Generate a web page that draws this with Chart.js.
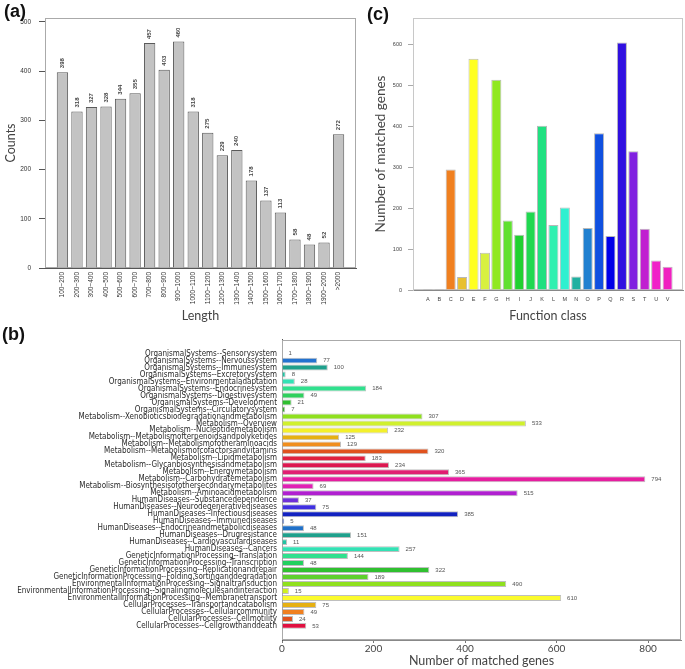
<!DOCTYPE html>
<html>
<head>
<meta charset="utf-8">
<script src="https://cdn.jsdelivr.net/npm/chart.js@4.4.1/dist/chart.umd.min.js"></script>
<style>
  body { margin: 0; background: #fff; width: 685px; height: 669px; position: relative; overflow: hidden; }
  .wrap { position: absolute; }
  .tag { position: absolute; font: bold 18px "Liberation Sans", Arial, sans-serif; color: #111; }
</style>
</head>
<body>
<div class="wrap" style="left:0;top:0"><canvas id="chartA" width="360" height="325"></canvas></div>
<div class="wrap" style="left:345px;top:0"><canvas id="chartC" width="340" height="325"></canvas></div>
<div class="wrap" style="left:0;top:330px"><canvas id="chartB" width="685" height="339"></canvas></div>
<div class="tag" style="left:4px;top:1px">(a)</div>
<div class="tag" style="left:367px;top:4px">(c)</div>
<div class="tag" style="left:2px;top:324px">(b)</div>
<script>
// (a) length distribution
var lengthLabels = ['100~200', '200~300', '300~400', '400~500', '500~600', '600~700', '700~800', '800~900', '900~1000',
  '1000~1100', '1100~1200', '1200~1300', '1300~1400', '1400~1500', '1500~1600', '1600~1700', '1700~1800',
  '1800~1900', '1900~2000', '>2000'];
var lengthCounts = [398, 318, 327, 328, 344, 355, 457, 403, 460, 318, 275, 229, 240, 178, 137, 113, 58, 48, 52, 272];
var countTicks = [0, 100, 200, 300, 400, 500];

// (c) function classes
var classLabels = ['A', 'B', 'C', 'D', 'E', 'F', 'G', 'H', 'I', 'J', 'K', 'L', 'M', 'N', 'O', 'P', 'Q', 'R', 'S', 'T', 'U', 'V'];
var classCounts = [2, 2, 295, 32, 566, 91, 515, 170, 135, 192, 402, 159, 202, 33, 152, 384, 132, 606, 340, 150, 72, 57];
var classColors = ['#555555', '#555555', '#f08020', '#e8c030', '#ffff20', '#d8f040', '#90e820', '#60e030', '#20d030',
  '#20d850', '#20e080', '#30f0b0', '#30f0d0', '#20b0a0', '#2080d0', '#1050e0', '#0000e8', '#3010e0', '#8020e0',
  '#c020d0', '#f020c8', '#f020c0'];
var classTicks = [0, 100, 200, 300, 400, 500, 600];

// (b) pathways
var pathwayLabels = [
  'OrganismalSystems--Sensorysystem',
  'OrganismalSystems--Nervoussystem',
  'OrganismalSystems--Immunesystem',
  'OrganismalSystems--Excretorysystem',
  'OrganismalSystems--Environmentaladaptation',
  'OrganismalSystems--Endocrinesystem',
  'OrganismalSystems--Digestivesystem',
  'OrganismalSystems--Development',
  'OrganismalSystems--Circulatorysystem',
  'Metabolism--Xenobioticsbiodegradationandmetabolism',
  'Metabolism--Overview',
  'Metabolism--Nucleotidemetabolism',
  'Metabolism--Metabolismofterpenoidsandpolyketides',
  'Metabolism--Metabolismofotheraminoacids',
  'Metabolism--Metabolismofcofactorsandvitamins',
  'Metabolism--Lipidmetabolism',
  'Metabolism--Glycanbiosynthesisandmetabolism',
  'Metabolism--Energymetabolism',
  'Metabolism--Carbohydratemetabolism',
  'Metabolism--Biosynthesisofothersecondarymetabolites',
  'Metabolism--Aminoacidmetabolism',
  'HumanDiseases--Substancedependence',
  'HumanDiseases--Neurodegenerativediseases',
  'HumanDiseases--Infectiousdiseases',
  'HumanDiseases--Immunediseases',
  'HumanDiseases--Endocrineandmetabolicdiseases',
  'HumanDiseases--Drugresistance',
  'HumanDiseases--Cardiovasculardiseases',
  'HumanDiseases--Cancers',
  'GeneticInformationProcessing--Translation',
  'GeneticInformationProcessing--Transcription',
  'GeneticInformationProcessing--Replicationandrepair',
  'GeneticInformationProcessing--Folding,sortinganddegradation',
  'EnvironmentalInformationProcessing--Signaltransduction',
  'EnvironmentalInformationProcessing--Signalingmoleculesandinteraction',
  'EnvironmentalInformationProcessing--Membranetransport',
  'CellularProcesses--Transportandcatabolism',
  'CellularProcesses--Cellularcommunity',
  'CellularProcesses--Cellmotility',
  'CellularProcesses--Cellgrowthanddeath'
];
var pathwayCounts = [1, 77, 100, 8, 28, 184, 49, 21, 7, 307, 533, 232, 125, 129, 320, 183, 234, 365, 794, 69, 515,
  37, 75, 385, 5, 48, 151, 11, 257, 144, 48, 322, 189, 490, 15, 610, 75, 49, 24, 53];
var pathwayColors = ['#333333', '#2272d0', '#1fa08c', '#22c3a3', '#33e2b5', '#30e08e', '#2fd05e', '#2fbf2f', '#3aa82a',
  '#8fe01e', '#d0f02e', '#f3f02c', '#e6b012', '#f08e1e', '#e0521e', '#e02040', '#dc1850', '#e01e72', '#e61ea0',
  '#e020b4', '#b020d0', '#7030d8', '#4030e0', '#1222c0', '#1040c0', '#2070c8', '#1fa08c', '#22c3a3', '#33e2b5',
  '#30e08e', '#22d05e', '#30c030', '#5ed02e', '#8fe01e', '#d0f020', '#fbfb2c', '#e6b012', '#f08020', '#e0521e', '#e01040'];
var pathwayTicks = [0, 200, 400, 600, 800];

var titleFamily = 'Lato, "Open Sans", sans-serif';
var smallFont = { family: '"Liberation Sans", Arial, sans-serif', size: 6.5 };

// box round the plot area
var framePlugin = {
  id: 'frame',
  beforeDatasetsDraw: function (chart, args, opts) {
    var a = chart.chartArea, ctx = chart.ctx;
    ctx.save();
    ctx.strokeStyle = opts.color || '#999';
    ctx.lineWidth = 1;
    ctx.strokeRect(Math.round(a.left) + 0.5, Math.round(a.top) + 0.5,
      Math.round(a.right - a.left) - 1, Math.round(a.bottom - a.top) - 1);
    ctx.restore();
  }
};

// numbers next to the bars
var valuePlugin = {
  id: 'values',
  afterDatasetsDraw: function (chart, args, opts) {
    if (!opts.show) return;
    var ctx = chart.ctx;
    var meta = chart.getDatasetMeta(0);
    ctx.save();
    ctx.font = opts.font;
    ctx.fillStyle = opts.color;
    meta.data.forEach(function (bar, i) {
      var p = meta.controller.getParsed(i);
      if (opts.vertical) {
        ctx.save();
        ctx.translate(bar.x, bar.y - 4);
        ctx.rotate(-Math.PI / 2);
        ctx.textAlign = 'left';
        ctx.textBaseline = 'middle';
        ctx.fillText(String(p.y), 0, 0);
        ctx.restore();
      } else {
        ctx.textAlign = 'left';
        ctx.textBaseline = 'middle';
        ctx.fillText(String(p.x), bar.x + 6, bar.y);
      }
    });
    ctx.restore();
  }
};

new Chart(document.getElementById('chartA'), {
  type: 'bar',
  data: {
    datasets: [{
      data: lengthCounts.map(function (v, i) { return { x: i, y: v }; }),
      backgroundColor: '#c3c3c3',
      borderColor: '#5a5a5a',
      borderWidth: 1,
      barPercentage: 0.78,
      categoryPercentage: 1
    }]
  },
  options: {
    responsive: false,
    animation: false,
    events: [],
    layout: { padding: { top: 18, right: 4, left: 0, bottom: 0 } },
    plugins: {
      legend: { display: false },
      tooltip: { enabled: false },
      frame: { color: '#aaa' },
      values: { show: true, vertical: true, font: 'bold 6px "Liberation Sans", Arial, sans-serif', color: '#444' }
    },
    scales: {
      x: {
        type: 'linear',
        offset: false,
        min: -1.2,
        max: 20.2,
        afterBuildTicks: function (s) { s.ticks = lengthLabels.map(function (l, i) { return { value: i }; }); },
        afterFit: function (s) { s.height = 57; },
        grid: { drawOnChartArea: false, drawTicks: false },
        border: { color: '#555' },
        ticks: {
          autoSkip: false, minRotation: 90, maxRotation: 90, padding: 4,
          font: smallFont, color: '#333',
          callback: function (v) { return lengthLabels[v]; }
        },
        title: { display: true, text: 'Length', font: { family: titleFamily, size: 12.5 }, color: '#444', padding: { top: 0, bottom: 2 } }
      },
      y: {
        min: 0,
        max: 508,
        afterBuildTicks: function (s) { s.ticks = countTicks.map(function (v) { return { value: v }; }); },
        afterFit: function (s) { s.width = 45; },
        grid: { drawOnChartArea: false, tickLength: 6, color: '#555' },
        border: { color: '#555' },
        ticks: { font: smallFont, color: '#333', padding: 8 },
        title: { display: true, text: 'Counts', font: { family: titleFamily, size: 12.5 }, color: '#444', padding: { top: 3, bottom: 0 } }
      }
    }
  },
  plugins: [framePlugin, valuePlugin]
});

new Chart(document.getElementById('chartC'), {
  type: 'bar',
  data: {
    datasets: [{
      data: classCounts.map(function (v, i) { return { x: i, y: v }; }),
      backgroundColor: classColors,
      borderColor: 'rgba(0,0,0,0.28)',
      borderWidth: 1,
      barPercentage: 0.88,
      categoryPercentage: 1
    }]
  },
  options: {
    responsive: false,
    animation: false,
    events: [],
    layout: { padding: { top: 18, right: 2, left: 0, bottom: 0 } },
    plugins: {
      legend: { display: false },
      tooltip: { enabled: false },
      frame: { color: '#c8c8c8' },
      values: { show: false }
    },
    scales: {
      x: {
        type: 'linear',
        offset: false,
        min: -1.3,
        max: 22.35,
        afterBuildTicks: function (s) { s.ticks = classLabels.map(function (l, i) { return { value: i }; }); },
        afterFit: function (s) { s.height = 35; },
        grid: { drawOnChartArea: false, drawTicks: false },
        border: { color: '#888' },
        ticks: {
          autoSkip: false, maxRotation: 0, padding: 6,
          font: { family: '"Liberation Sans", Arial, sans-serif', size: 5.5 }, color: '#444',
          callback: function (v) { return classLabels[v]; }
        },
        title: { display: true, text: 'Function class', font: { family: titleFamily, size: 12.5 }, color: '#444', padding: { top: 0, bottom: 2 } }
      },
      y: {
        min: 0,
        max: 666,
        afterBuildTicks: function (s) { s.ticks = classTicks.map(function (v) { return { value: v }; }); },
        afterFit: function (s) { s.width = 68; },
        grid: { drawOnChartArea: false, tickLength: 5, color: '#aaa' },
        border: { color: '#c8c8c8' },
        ticks: { font: { family: '"Liberation Sans", Arial, sans-serif', size: 5.5 }, color: '#444', padding: 6 },
        title: { display: true, text: 'Number of matched genes', font: { family: titleFamily, size: 13.5 }, color: '#444', padding: { top: 28, bottom: 0 } }
      }
    }
  },
  plugins: [framePlugin, valuePlugin]
});

new Chart(document.getElementById('chartB'), {
  type: 'bar',
  data: {
    datasets: [{
      data: pathwayCounts.map(function (v, i) { return { x: v, y: i }; }),
      backgroundColor: pathwayColors,
      borderColor: 'rgba(0,0,0,0.25)',
      borderWidth: 1,
      barPercentage: 0.85,
      categoryPercentage: 1
    }]
  },
  options: {
    indexAxis: 'y',
    responsive: false,
    animation: false,
    events: [],
    layout: { padding: { top: 6, right: 4, left: 0, bottom: 0 } },
    plugins: {
      legend: { display: false },
      tooltip: { enabled: false },
      frame: { color: '#aaa' },
      values: { show: true, vertical: false, font: '6px "Liberation Sans", Arial, sans-serif', color: '#555' }
    },
    scales: {
      x: {
        min: 0,
        max: 872,
        afterBuildTicks: function (s) { s.ticks = pathwayTicks.map(function (v) { return { value: v }; }); },
        afterFit: function (s) { s.height = 29; },
        grid: { drawOnChartArea: false, tickLength: 3, color: '#777' },
        border: { color: '#888' },
        ticks: { font: { family: titleFamily, size: 10 }, color: '#444', padding: 0 },
        title: { display: true, text: 'Number of matched genes', font: { family: titleFamily, size: 12.5 }, color: '#444', padding: { top: 0, bottom: 1 } }
      },
      y: {
        type: 'linear',
        offset: false,
        reverse: true,
        min: -1.98,
        max: 41.02,
        afterBuildTicks: function (s) { s.ticks = pathwayLabels.map(function (l, i) { return { value: i }; }); },
        afterFit: function (s) { s.width = 282; },
        grid: { drawOnChartArea: false, drawTicks: false },
        border: { color: '#555' },
        ticks: {
          autoSkip: false, padding: 5,
          font: { family: '"Liberation Sans Narrow", "DejaVu Sans Condensed", sans-serif', size: 8 }, color: '#2a2a2a',
          callback: function (v) { return pathwayLabels[v]; }
        }
      }
    }
  },
  plugins: [framePlugin, valuePlugin]
});
</script>
</body>
</html>
